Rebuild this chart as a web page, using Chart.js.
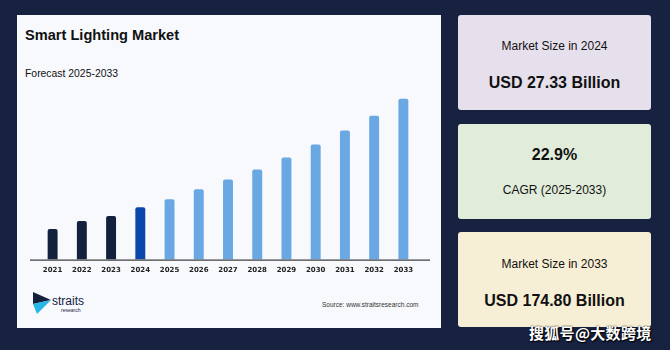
<!DOCTYPE html>
<html>
<head>
<meta charset="utf-8">
<script src="https://cdn.jsdelivr.net/npm/chart.js@4.4.0/dist/chart.umd.min.js"></script>
<style>
  html, body { margin: 0; padding: 0; }
  body { width: 670px; height: 350px; background: #172140; position: relative; overflow: hidden; font-family: "Liberation Sans", Arial, sans-serif; }
  .panel { position: absolute; left: 17px; top: 15px; width: 424px; height: 313px; background: #f7f9fd; }
  .title { position: absolute; left: 25px; top: 27px; font-size: 14.6px; font-weight: bold; color: #111; }
  .sub { position: absolute; left: 25px; top: 68px; font-size: 10.4px; color: #111; }
  #wrap { position: absolute; left: 20px; top: 60px; width: 420px; height: 220px; }
  .card { position: absolute; left: 458px; width: 193px; height: 95px; border-radius: 3px; text-align: center; color: #111; }
  .card .a { position: absolute; left: 0; right: 0; }
  .src { position: absolute; left: 322px; top: 301px; font-size: 6.5px; color: #333; }
  .logo { position: absolute; left: 33px; top: 292px; }
  .wm { position: absolute; left: 529px; top: 322px; font-family: "Noto Sans CJK SC", sans-serif; font-size: 15px; font-weight: bold; color: #fff; text-shadow: 0 0 2px #000, 1px 1px 1px #000; letter-spacing: 0.3px; }
</style>
</head>
<body>
<div class="panel"></div>
<div class="title">Smart Lighting Market</div>
<div class="sub">Forecast 2025-2033</div>
<div id="wrap"><canvas id="chart" width="420" height="220"></canvas></div>

<svg class="logo" width="60" height="24" viewBox="0 0 60 24">
  <polygon points="0,0 18,8 0,12" fill="#14213d"/>
  <polygon points="0,12 18,8 4,22" fill="#27b6e6"/>
  <text x="19" y="13" font-family="Liberation Sans, Arial" font-size="12" fill="#14213d">straits</text>
  <text x="28" y="20" font-family="Liberation Sans, Arial" font-size="5" fill="#14213d">research</text>
</svg>
<div class="src">Source: www.straitsresearch.com</div>

<div class="card" style="top:15px;background:#e6e0ec;">
  <div class="a" style="top:24px;font-size:12px;">Market Size in 2024</div>
  <div class="a" style="top:59px;font-size:16px;font-weight:bold;">USD 27.33 Billion</div>
</div>
<div class="card" style="top:124px;background:#e2ecdb;">
  <div class="a" style="top:22px;font-size:16px;font-weight:bold;">22.9%</div>
  <div class="a" style="top:59px;font-size:12px;">CAGR (2025-2033)</div>
</div>
<div class="card" style="top:232px;background:#f7efd5;">
  <div class="a" style="top:25px;font-size:12px;">Market Size in 2033</div>
  <div class="a" style="top:60px;font-size:16px;font-weight:bold;">USD 174.80 Billion</div>
</div>
<div class="wm">搜狐号@大数跨境</div>

<script>
// bar heights, scaled so that 2024 = 27.33
const years = ['2021', '2022', '2023', '2024', '2025', '2026', '2027', '2028', '2029', '2030', '2031', '2032', '2033'];
const values = [15.9, 20.1, 22.7, 27.33, 31.5, 36.7, 41.8, 47.0, 53.3, 60.0, 67.3, 75.0, 83.9];
const barColors = ['#14213d', '#14213d', '#14213d', '#0a47aa', '#6aa8e3', '#6aa8e3', '#6aa8e3', '#6aa8e3', '#6aa8e3', '#6aa8e3', '#6aa8e3', '#6aa8e3', '#6aa8e3'];

// baseline runs a bit past the bars on both sides
const baseline = {
    id: 'baseline',
    afterDatasetsDraw(chart) {
        const ctx = chart.ctx;
        const area = chart.chartArea;
        ctx.save();
        ctx.strokeStyle = '#111';
        ctx.lineWidth = 1;
        ctx.beginPath();
        ctx.moveTo(area.left - 8, area.bottom + 0.5);
        ctx.lineTo(area.right + 12, area.bottom + 0.5);
        ctx.stroke();
        ctx.restore();
    }
};

new Chart(document.getElementById('chart').getContext('2d'), {
    type: 'bar',
    data: {
        labels: years,
        datasets: [{
            data: values,
            backgroundColor: barColors,
            borderRadius: { topLeft: 2, topRight: 2 },
            borderSkipped: 'bottom',
            barPercentage: 0.68,
            categoryPercentage: 0.5
        }]
    },
    options: {
        responsive: false,
        animation: false,
        layout: { padding: { left: 18, right: 22, top: 27, bottom: 0 } },
        plugins: { legend: { display: false }, tooltip: { enabled: false } },
        scales: {
            x: {
                grid: { display: false, drawTicks: false },
                border: { display: false },
                ticks: { color: '#222', padding: 6, font: { size: 7, weight: 'bold', family: 'DejaVu Sans' } }
            },
            y: {
                display: false,
                min: 0,
                max: 90
            }
        }
    },
    plugins: [baseline]
});
</script>
</body>
</html>
